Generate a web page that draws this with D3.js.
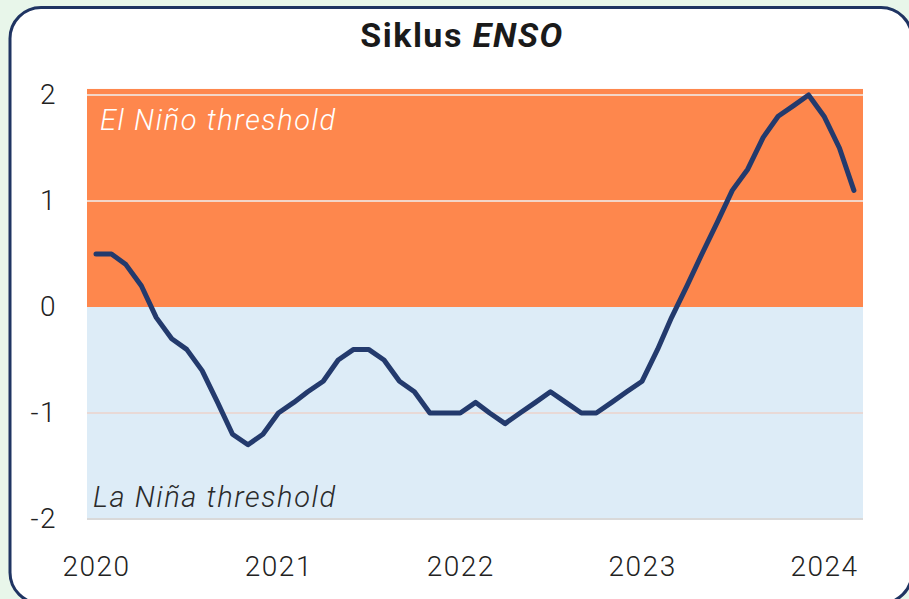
<!DOCTYPE html>
<html>
<head>
<meta charset="utf-8">
<script src="https://cdn.jsdelivr.net/npm/d3@7"></script>
<style>
  html, body { margin: 0; padding: 0; background: #e8f6ea; }
  svg { display: block; }
  .tick text { font-family: Roboto, "DejaVu Sans", sans-serif; fill: #222; font-weight: 300; letter-spacing: 1.5px; }
</style>
</head>
<body>
<svg id="chart" width="909" height="599"></svg>
<script>
/* chart data */

// monthly ONI values, Jan 2020 .. Mar 2024
const startYear = 2020;
const oniValues = [
  0.5, 0.5, 0.4, 0.2, -0.1, -0.3, -0.4, -0.6, -0.9, -1.2, -1.3, -1.2,
  -1.0, -0.9, -0.8, -0.7, -0.5, -0.4, -0.4, -0.5, -0.7, -0.8, -1.0, -1.0,
  -1.0, -0.9, -1.0, -1.1, -1.0, -0.9, -0.8, -0.9, -1.0, -1.0, -0.9, -0.8,
  -0.7, -0.4, -0.1, 0.2, 0.5, 0.8, 1.1, 1.3, 1.6, 1.8, 1.9, 2.0,
  1.8, 1.5, 1.1
];
const yearTicks = [2020, 2021, 2022, 2023, 2024];
const valueTicks = [-2, -1, 0, 1, 2];
const bandLabels = ["El Niño threshold", "La Niña threshold"];

const data = oniValues.map((v, i) => ({ date: new Date(startYear, i, 1), value: v }));

const svg = d3.select("#chart");

// card
svg.append("rect")
  .attr("x", 10)
  .attr("y", 7.5)
  .attr("width", 902)
  .attr("height", 596)
  .attr("rx", 31)
  .attr("fill", "#fff")
  .attr("stroke", "#1f3462")
  .attr("stroke-width", 3);

// title
const title = svg.append("text")
  .attr("x", 462)
  .attr("y", 47)
  .attr("text-anchor", "middle")
  .style("font-family", "Roboto, sans-serif")
  .style("font-size", "34px")
  .style("font-weight", "bold")
  .style("letter-spacing", "1.5px")
  .style("fill", "#1a1a1a");
title.append("tspan").text("Siklus ");
title.append("tspan").style("font-style", "italic").text("ENSO");

/* scales */

let x = d3.scaleTime()
  .domain([new Date(2020, 0, 1), new Date(2024, 0, 1)])
  .range([96, 824]);

let y = d3.scaleLinear()
  .domain([-2, 2])
  .range([519, 95]);

const left = 87, right = 863;
const yTop = 2.057;

// bands
svg.append("rect")
  .attr("x", left)
  .attr("y", y(yTop))
  .attr("width", right - left)
  .attr("height", y(0) - y(yTop))
  .attr("fill", "#fe874d");

svg.append("rect")
  .attr("x", left)
  .attr("y", y(0))
  .attr("width", right - left)
  .attr("height", y(-2) - y(0))
  .attr("fill", "#ddecf7");

// gridlines
svg.append("g")
  .selectAll("line")
  .data(valueTicks.filter(d => d !== 0))
  .enter().append("line")
  .attr("x1", left)
  .attr("x2", right)
  .attr("y1", d => y(d))
  .attr("y2", d => y(d))
  .attr("stroke", d => d === -2 ? "#d9d9d9" : (d > 0 ? "#f3d6c8" : "#e8d9d6"))
  .attr("stroke-width", 2);

// band labels
svg.append("text")
  .text(bandLabels[0])
  .attr("x", 100)
  .attr("y", 130)
  .style("font-family", "Roboto, sans-serif")
  .style("font-style", "italic")
  .style("font-weight", 300)
  .style("letter-spacing", "1.6px")
  .style("font-size", "29px")
  .style("fill", "#fff");

svg.append("text")
  .text(bandLabels[1])
  .attr("x", 93)
  .attr("y", 507)
  .style("font-family", "Roboto, sans-serif")
  .style("font-style", "italic")
  .style("font-weight", 300)
  .style("letter-spacing", "1.6px")
  .style("font-size", "29px")
  .style("fill", "#2a2a2a");

// axes
svg.append("g")
  .attr("transform", "translate(57,0)")
  .call(d3.axisLeft(y).tickValues(valueTicks).tickSize(0).tickPadding(0).tickFormat(d => d < 0 ? "-" + Math.abs(d) : d))
  .call(g => g.select(".domain").remove())
  .selectAll("text")
  .style("font-size", "28px");

svg.append("g")
  .attr("transform", "translate(0,556)")
  .call(d3.axisBottom(x).tickValues(yearTicks.map(t => new Date(t, 0, 1))).tickSize(0).tickPadding(0).tickFormat(d3.timeFormat("%Y")))
  .call(g => g.select(".domain").remove())
  .selectAll("text")
  .style("font-size", "28px");

// ONI line
const line = d3.line()
  .x(d => x(d.date))
  .y(d => y(d.value));

svg.append("path")
  .datum(data)
  .attr("d", line)
  .attr("fill", "none")
  .attr("stroke", "#233a6d")
  .attr("stroke-width", 5)
  .attr("stroke-linejoin", "round")
  .attr("stroke-linecap", "round");
</script>
</body>
</html>
